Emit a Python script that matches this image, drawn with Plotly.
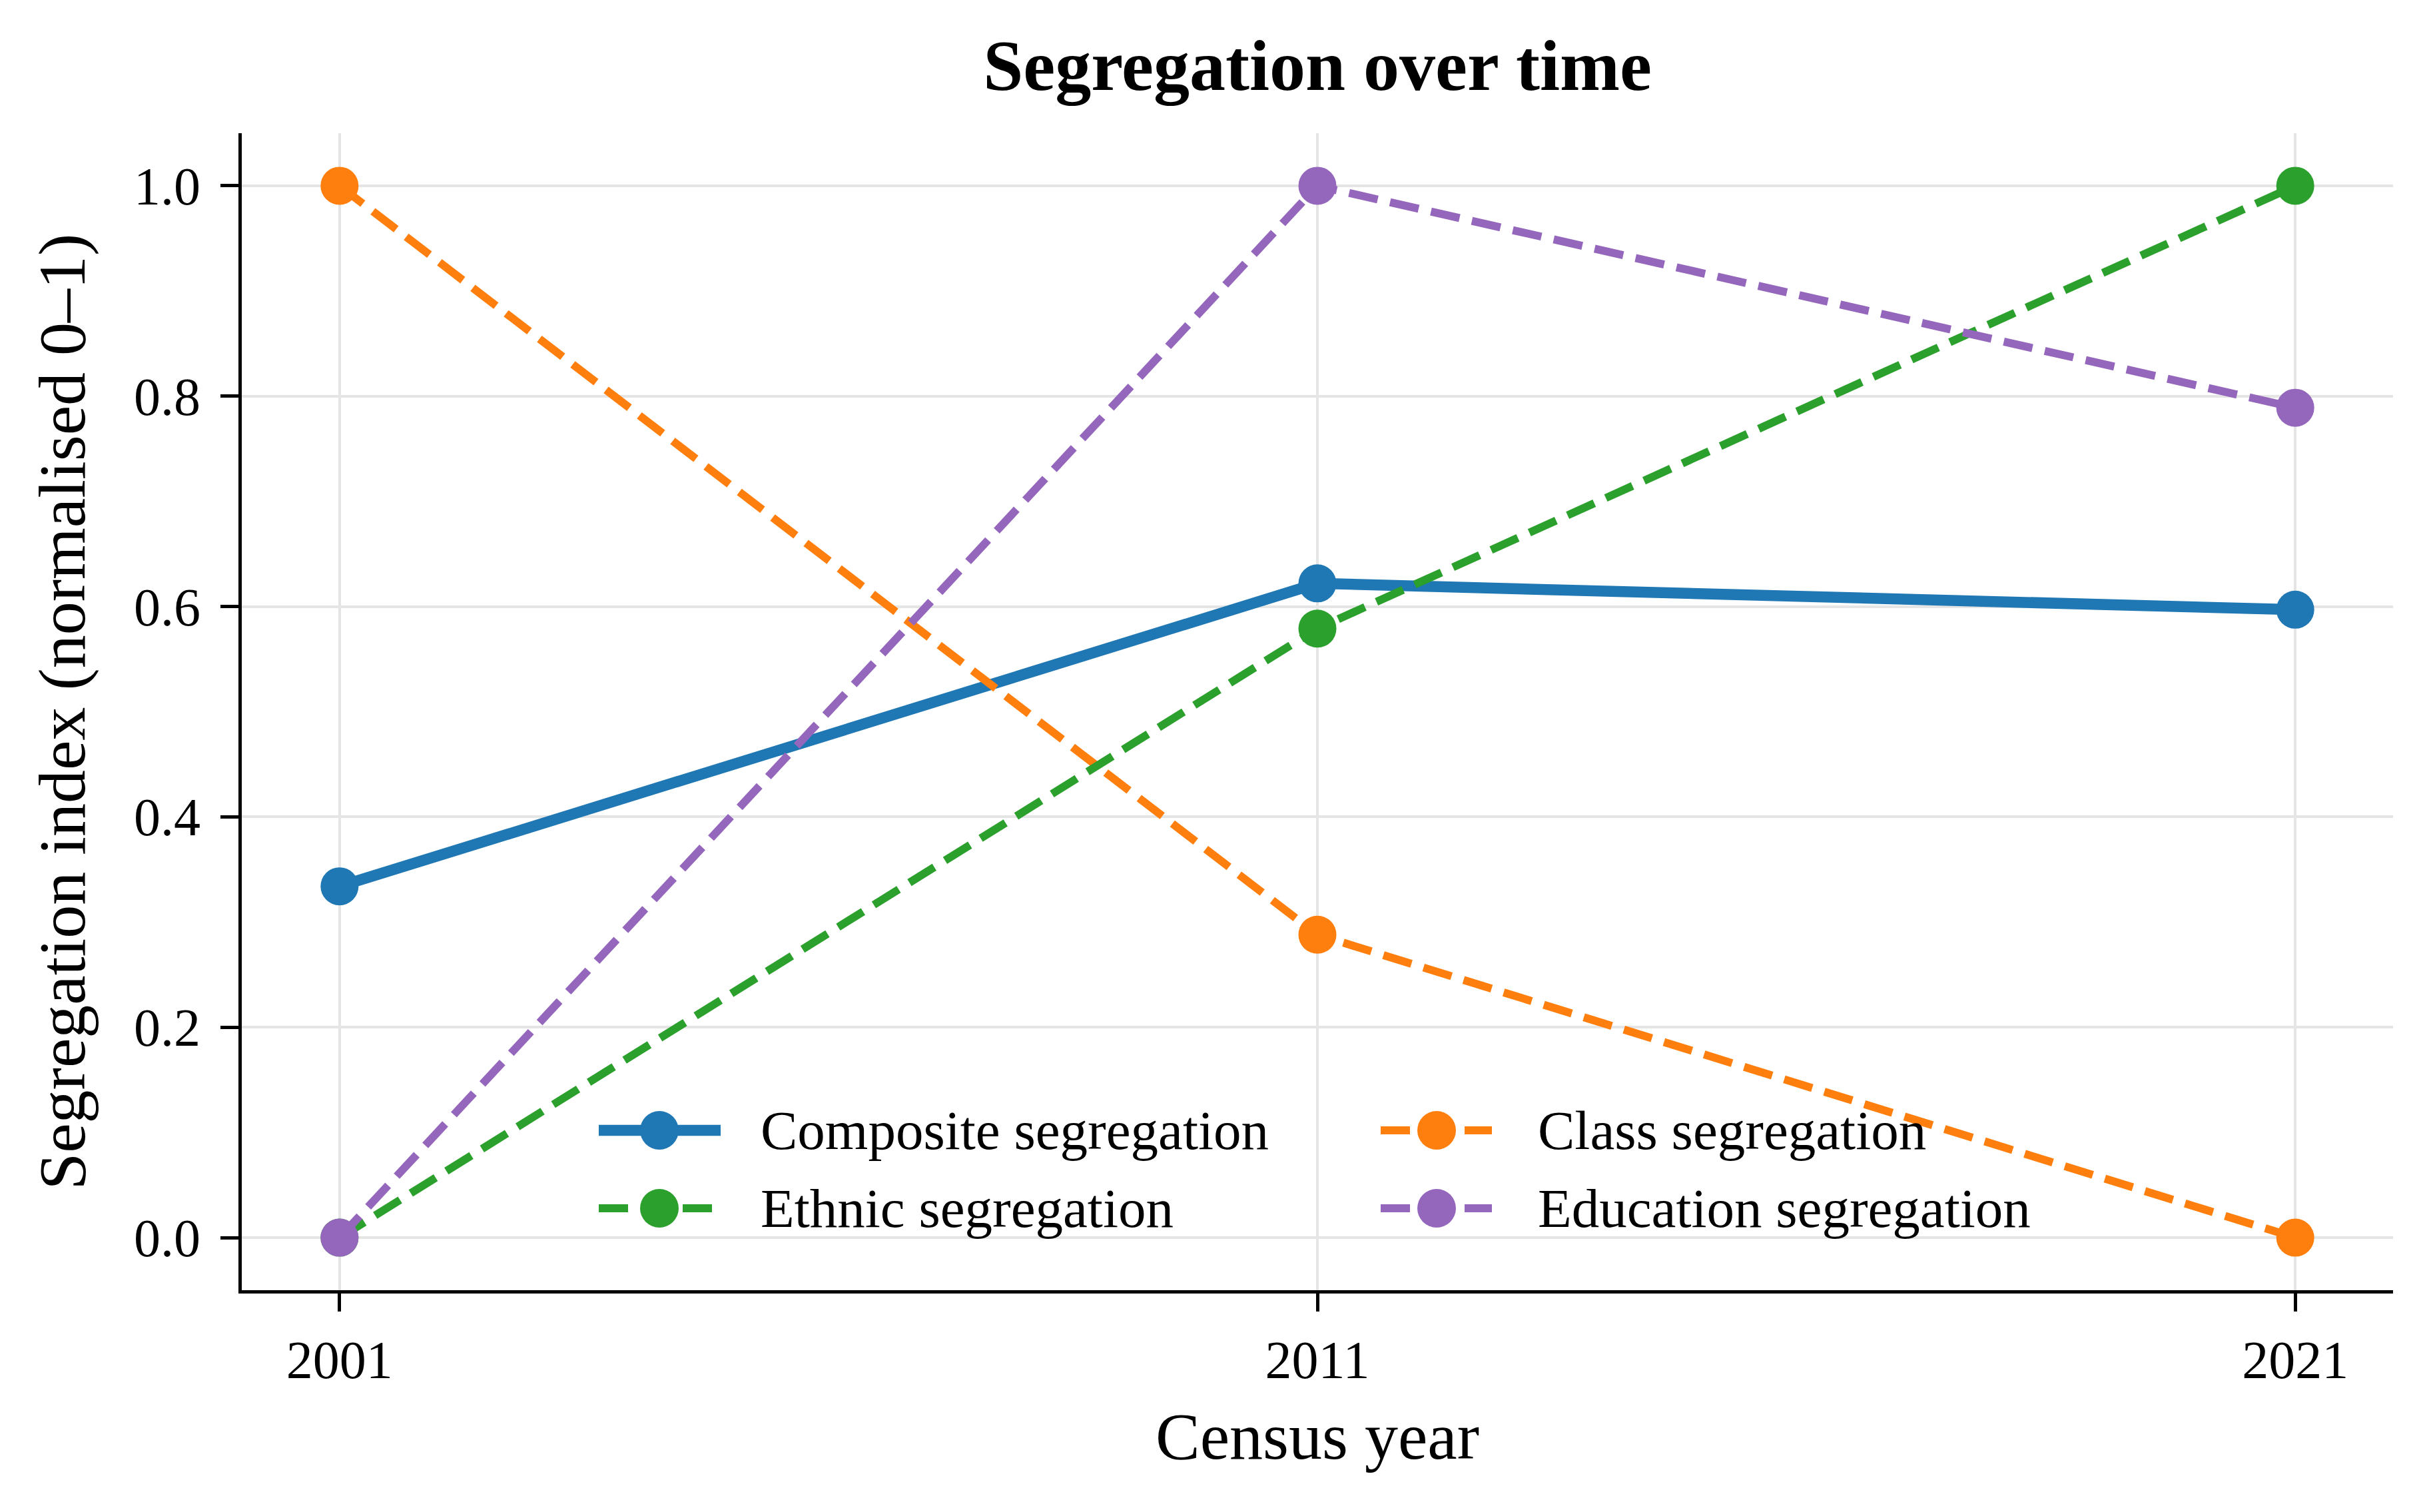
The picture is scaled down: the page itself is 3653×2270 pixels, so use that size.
import plotly.graph_objects as go

years = [2001, 2011, 2021]
composite = [0.334, 0.622, 0.597]
class_seg = [1.0, 0.288, 0.0]
ethnic = [0.0, 0.579, 1.0]
education = [0.0, 1.0, 0.789]
y_ticks = [0.0, 0.2, 0.4, 0.6, 0.8, 1.0]

OFF = 8  # default page body margin
W, H = 3653 - OFF, 2270 - OFF
L, R, T, B = 363 - OFF, 3593 - OFF, 200 - OFF, 1937 - OFF
FONT = "Liberation Serif"
DASH = "44px,19px"

fig = go.Figure()

series = [
    ("Composite segregation", composite, "#1f77b4", "solid", 16.5),
    ("Class segregation", class_seg, "#ff7f0e", DASH, 12),
    ("Ethnic segregation", ethnic, "#2ca02c", DASH, 12),
    ("Education segregation", education, "#9467bd", DASH, 12),
]
for name, vals, color, dash, lw in series:
    fig.add_trace(go.Scatter(
        x=years, y=vals, name=name, mode="lines+markers",
        line=dict(color=color, width=lw, dash=dash),
        marker=dict(color=color, size=57),
        showlegend=False,
    ))

# legend (two columns, matplotlib-style handles) built from the series list
legend_slots = {  # name -> (column, row)
    "Composite segregation": (0, 0),
    "Class segregation": (1, 0),
    "Ethnic segregation": (0, 1),
    "Education segregation": (1, 1),
}
col_px = [(899, 1082, 990, 1140), (2073, 2240, 2157, 2307)]
row_px = [1697, 1814]
px2x = lambda p: (p - OFF - L) / (R - L)
px2y = lambda p: (B - (p - OFF)) / (B - T)
shapes, annotations = [], []
for name, vals, color, dash, lw in series:
    c, r = legend_slots[name]
    x0, x1, xm, xt = col_px[c]
    yy = px2y(row_px[r])
    shapes.append(dict(type="line", xref="paper", yref="paper",
                       x0=px2x(x0), x1=px2x(x1), y0=yy, y1=yy,
                       line=dict(color=color, width=lw, dash=dash)))
    shapes.append(dict(type="circle", xref="paper", yref="paper",
                       xsizemode="pixel", ysizemode="pixel",
                       xanchor=px2x(xm), yanchor=yy,
                       x0=-29, x1=29, y0=-29, y1=29,
                       fillcolor=color, line=dict(width=0)))
    annotations.append(dict(text=name, xref="paper", yref="paper",
                            x=px2x(xt), y=yy, xanchor="left", yanchor="middle",
                            showarrow=False,
                            font=dict(family=FONT, size=83, color="black")))

axis_common = dict(
    showline=True, linecolor="black", linewidth=5,
    ticks="outside", ticklen=27, tickwidth=5, tickcolor="black",
    showgrid=True, gridcolor="#e5e5e5", gridwidth=4,
    zeroline=False,
    tickfont=dict(family=FONT, size=80, color="black"),
)

fig.update_layout(
    width=W, height=H,
    margin=dict(l=L, r=W - R, t=T, b=H - B),
    plot_bgcolor="white", paper_bgcolor="white",
    font=dict(family=FONT, color="black"),
    title=dict(
        text="<b>Segregation over time</b>",
        x=(L + R) / 2 / W, xanchor="center",
        y=1 - (97 - OFF) / H, yanchor="middle", yref="container",
        font=dict(family=FONT, size=108, color="black"),
    ),
    xaxis=dict(
        range=[2000, 2022], tickvals=years, ticktext=[str(y) for y in years],
        ticklabelstandoff=4,
        title=dict(text="Census year", font=dict(family=FONT, size=100), standoff=36),
        **axis_common,
    ),
    yaxis=dict(
        range=[-0.05, 1.05], tickvals=y_ticks,
        ticktext=[f"{v:.1f}" for v in y_ticks],
        ticklabelstandoff=14,
        title=dict(text="Segregation index (normalised 0–1)", font=dict(family=FONT, size=100), standoff=42),
        **axis_common,
    ),
    shapes=shapes,
    annotations=annotations,
    showlegend=False,
)

fig.write_html("out.html")
